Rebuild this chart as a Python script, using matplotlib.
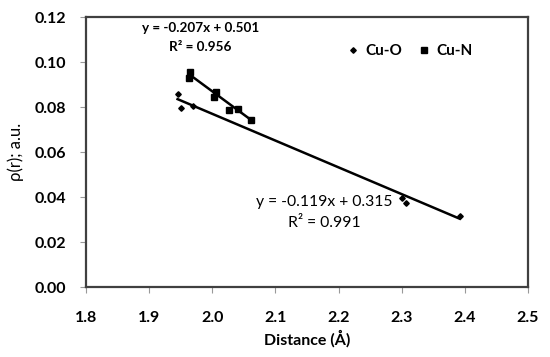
import numpy as np
import matplotlib.pyplot as plt

# Cu-O bond distances and rho(r)
cuo_dist = [1.945, 1.950, 1.970, 2.300, 2.306, 2.392]
cuo_rho = [0.0858, 0.0794, 0.0806, 0.0395, 0.0373, 0.0317]

# Cu-N bond distances and rho(r)
cun_dist = [1.963, 1.965, 2.002, 2.006, 2.027, 2.040, 2.061]
cun_rho = [0.0930, 0.0957, 0.0846, 0.0865, 0.0787, 0.0790, 0.0741]

# linear trendlines (as printed on the chart)
cuo_fit = (-0.119, 0.315, 0.991)
cun_fit = (-0.207, 0.501, 0.956)

x_ticks = [1.8, 1.9, 2.0, 2.1, 2.2, 2.3, 2.4, 2.5]
y_ticks = [0.00, 0.02, 0.04, 0.06, 0.08, 0.10, 0.12]

plt.rcParams['font.family'] = ['Lato', 'DejaVu Sans']

fig = plt.figure(figsize=(5.5, 3.57), dpi=100)
ax = fig.add_axes([0.1564, 0.196, 0.8036, 0.756])

ax.plot(cuo_dist, cuo_rho, 'D', color='black', markersize=2.8, label='Cu-O', zorder=3)
ax.plot(cun_dist, cun_rho, 's', color='black', markersize=4.8, label='Cu-N', zorder=3)

for dist, (m, b, r2) in [(cuo_dist, cuo_fit), (cun_dist, cun_fit)]:
    xs = np.array([min(dist), max(dist)])
    ax.plot(xs, m * xs + b, color='black', linewidth=1.8, zorder=2)

ax.set_xlim(1.8, 2.5)
ax.set_ylim(0, 0.12)
ax.set_xticks(x_ticks)
ax.set_yticks(y_ticks)
ax.set_xticklabels([f'{v:.1f}' for v in x_ticks], fontweight='bold', fontsize=11.5)
ax.set_yticklabels([f'{v:.2f}' for v in y_ticks], fontweight='bold', fontsize=11.5)
ax.tick_params(direction='out', length=4, color='#999999', width=0.8)
ax.tick_params(axis='x', pad=13)
ax.tick_params(axis='y', pad=10)
for s in ax.spines.values():
    s.set_color('#404040')
    s.set_linewidth(1.6)

ax.set_xlabel('Distance (Å)', fontweight='bold', fontsize=11.5, labelpad=4)
ax.set_ylabel('ρ(r); a.u.', fontsize=12, labelpad=8)

ax.text(1.981, 0.1151, f'y = {cun_fit[0]:.3f}x + {cun_fit[1]:.3f}', fontweight='bold',
        fontsize=9.7, ha='center', va='center')
ax.text(1.981, 0.1068, f'R² = {cun_fit[2]:.3f}', fontweight='bold',
        fontsize=9.7, ha='center', va='center')
ax.text(2.177, 0.0379, f'y = {cuo_fit[0]:.3f}x + {cuo_fit[1]:.3f}',
        fontsize=11.3, ha='center', va='center')
ax.text(2.177, 0.0284, f'R² = {cuo_fit[2]:.3f}',
        fontsize=11.3, ha='center', va='center')

ax.legend(loc='upper right', bbox_to_anchor=(0.905, 0.95), ncol=2, frameon=False,
          prop={'weight': 'bold', 'size': 11}, handlelength=0.8,
          handletextpad=0.4, columnspacing=1.0)

fig.savefig('out.png', dpi=100)
